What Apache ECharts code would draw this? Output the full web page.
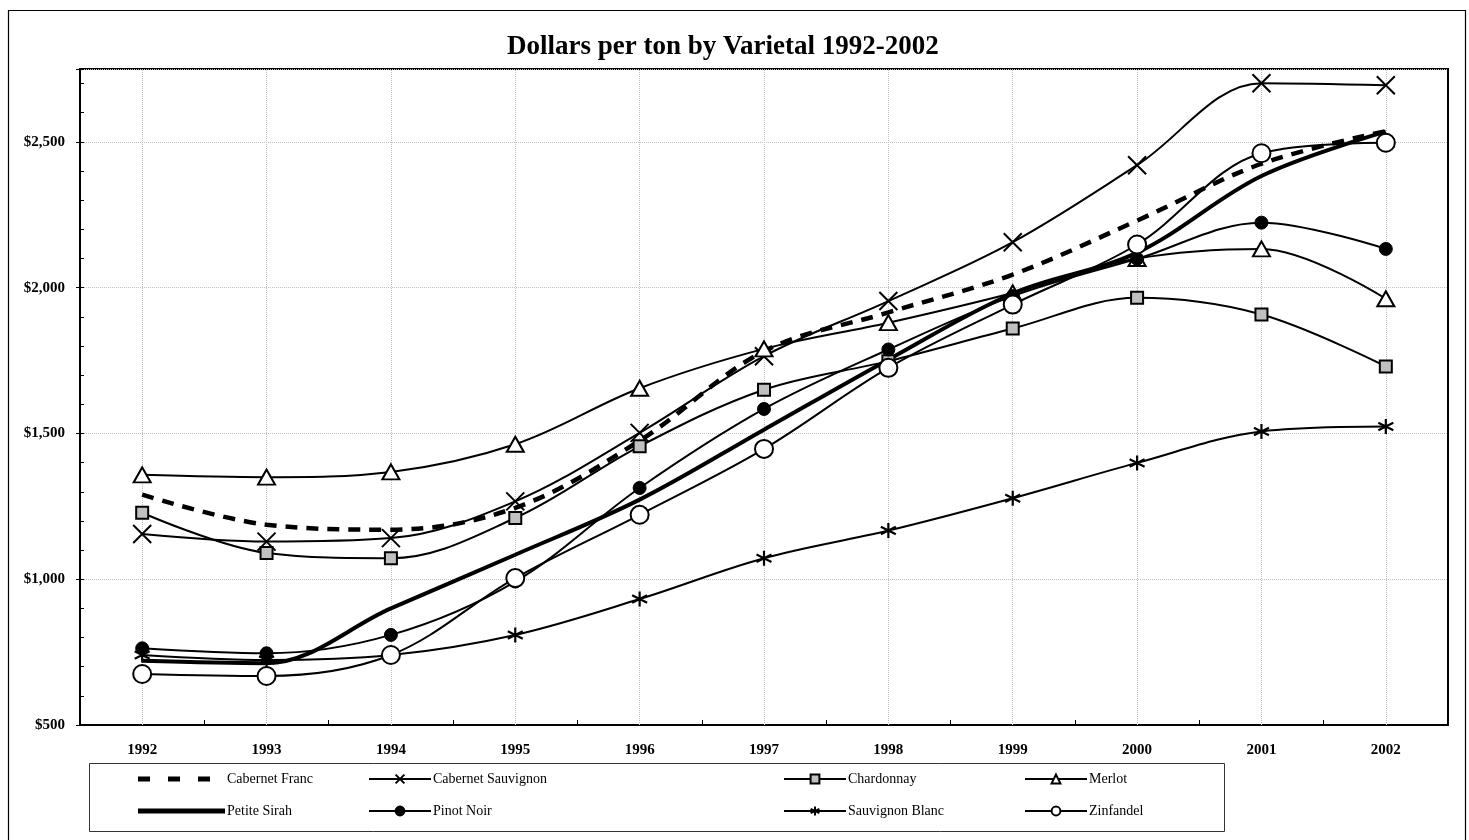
<!DOCTYPE html>
<html>
<head>
<meta charset="utf-8">
<script src="https://cdn.jsdelivr.net/npm/echarts@6/dist/echarts.min.js"></script>
<style>
html,body{margin:0;padding:0;background:#fff;}
#chart{width:1469px;height:840px;}
</style>
</head>
<body>
<div id="chart"></div>
<script>
var years = ['1992','1993','1994','1995','1996','1997','1998','1999','2000','2001','2002'];
var yTicks = [500, 1000, 1500, 2000, 2500];
var cabernetFranc      = [1290, 1187, 1170, 1245, 1475, 1782, 1915, 2045, 2230, 2425, 2537];
var cabernetSauvignon  = [1155, 1129, 1141, 1267, 1502, 1765, 1954, 2156, 2420, 2701, 2694];
var chardonnay         = [1228, 1090, 1072, 1210, 1456, 1650, 1748, 1860, 1965, 1908, 1730];
var merlot             = [1358, 1350, 1368, 1463, 1655, 1790, 1880, 1982, 2100, 2133, 1962];
var petiteSirah        = [720, 712, 900, 1084, 1273, 1513, 1753, 1980, 2120, 2383, 2535];
var pinotNoir          = [763, 746, 809, 992, 1313, 1584, 1788, 1971, 2099, 2223, 2133];
var sauvignonBlanc     = [740, 723, 740, 809, 932, 1072, 1167, 1278, 1399, 1507, 1524];
var zinfandel          = [675, 668, 740, 1004, 1221, 1447, 1725, 1942, 2148, 2461, 2497];

var FONT = 'Liberation Serif, Times New Roman, serif';
var SM = 0.35;
function lineSeries(name, data, opts) {
  return Object.assign({
    name: name, type: 'line', data: data, smooth: SM, showAllSymbol: true, z: 3,
    lineStyle: {color: '#000', width: 2},
    emphasis: {disabled: true},
    animation: false
  }, opts);
}
var crossPath = 'path://M0,0L10,10M10,0L0,10';
var starPath = 'path://M5,0L5,10M0.7,2.5L9.3,7.5M9.3,2.5L0.7,7.5';
var dashIcon = 'path://M0,0h12v5h-12zM30,0h12v5h-12zM60,0h12v5h-12zM86.9,2.4h0.1v0.1h-0.1z';
var thickIcon = 'path://M0,0h82v4.5h-82z';

var series = [
  {
    name: '_grid', type: 'line', data: [], z: 1, silent: true, animation: false,
    markLine: {
      silent: true, z: 1, symbol: ['none','none'], label: {show: false}, animation: false,
      emphasis: {disabled: true},
      lineStyle: {color: '#c0c0c0', type: 'dotted', width: 1},
      data: years.map(function (y) { return {xAxis: y}; })
    }
  },
  lineSeries('Cabernet Franc', cabernetFranc, {
    symbol: 'none', lineStyle: {color: '#000', width: 4.5, type: [12, 9]}, itemStyle: {color: '#000'}
  }),
  lineSeries('Cabernet Sauvignon', cabernetSauvignon, {
    symbol: crossPath, symbolSize: 18,
    itemStyle: {color: 'rgba(0,0,0,0)', borderColor: '#000', borderWidth: 2}
  }),
  lineSeries('Chardonnay', chardonnay, {
    symbol: 'rect', symbolSize: 12,
    itemStyle: {color: '#c0c0c0', borderColor: '#000', borderWidth: 2}
  }),
  lineSeries('Merlot', merlot, {
    symbol: 'triangle', symbolSize: [17, 15],
    itemStyle: {color: '#fff', borderColor: '#000', borderWidth: 2}
  }),
  lineSeries('Petite Sirah', petiteSirah, {
    symbol: 'none', lineStyle: {color: '#000', width: 4}, itemStyle: {color: '#000'}
  }),
  lineSeries('Pinot Noir', pinotNoir, {
    symbol: 'circle', symbolSize: 13,
    itemStyle: {color: '#000', borderColor: '#000', borderWidth: 1}
  }),
  lineSeries('Sauvignon Blanc', sauvignonBlanc, {
    symbol: starPath, symbolSize: 15,
    itemStyle: {color: 'rgba(0,0,0,0)', borderColor: '#000', borderWidth: 2.2}
  }),
  lineSeries('Zinfandel', zinfandel, {
    symbol: 'circle', symbolSize: 18,
    itemStyle: {color: '#fff', borderColor: '#000', borderWidth: 2}
  })
];

function legendCol(names, left, w) {
  return {
    data: names, orient: 'vertical', left: left, top: 767, itemWidth: w, itemHeight: 11,
    itemGap: 18, selectedMode: false,
    textStyle: {fontFamily: FONT, fontSize: 14, color: '#000', padding: [0,0,0,-3]}
  };
}

var chart = echarts.init(document.getElementById('chart'), null, {renderer: 'canvas'});
chart.setOption({
  backgroundColor: '#fff',
  animation: false,
  title: {
    text: 'Dollars per ton by Varietal 1992-2002', left: 502, top: 29,
    textStyle: {fontFamily: FONT, fontSize: 27, fontWeight: 'bold', color: '#000'}
  },
  graphic: [
    {type: 'rect', shape: {x: 8.5, y: 10.5, width: 1457, height: 850}, style: {fill: 'none', stroke: '#000', lineWidth: 1.2}, z: -10, silent: true},
    {type: 'rect', shape: {x: 89.5, y: 763.5, width: 1135, height: 68}, style: {fill: 'none', stroke: '#333', lineWidth: 1}, z: -10, silent: true}
  ],
  legend: [
    {
      data: [
        {name: 'Cabernet Franc', icon: dashIcon, itemStyle: {color: '#000', borderWidth: 0}},
        {name: 'Petite Sirah', icon: thickIcon, itemStyle: {color: '#000', borderWidth: 0}}
      ],
      orient: 'vertical', left: 133, top: 767, itemWidth: 87, itemHeight: 11,
      itemGap: 18, selectedMode: false,
      textStyle: {fontFamily: FONT, fontSize: 14, color: '#000', padding: [0,0,0,-3]}
    },
    legendCol(['Cabernet Sauvignon', 'Pinot Noir'], 363, 62),
    legendCol(['Chardonnay', 'Sauvignon Blanc'], 778, 62),
    legendCol(['Merlot', 'Zinfandel'], 1019, 62)
  ],
  grid: {left: 80, right: 21, top: 69, bottom: 115, show: true, borderColor: '#000', borderWidth: 2, backgroundColor: 'transparent'},
  xAxis: {
    type: 'category', data: years, boundaryGap: true,
    axisLine: {lineStyle: {color: '#000', width: 2}},
    axisTick: {show: true, inside: true, length: 5, lineStyle: {color: '#000', width: 1}},
    axisLabel: {fontFamily: FONT, fontSize: 15, fontWeight: 'bold', color: '#000', margin: 18},
    splitLine: {show: false}
  },
  yAxis: [{
    type: 'value', min: yTicks[0], max: 2750, interval: 500,
    axisLine: {show: true, lineStyle: {color: '#000', width: 2}},
    axisTick: {show: true, inside: true, length: 4, lineStyle: {color: '#000'}},
    minorTick: {show: true, splitNumber: 5, length: 4, lineStyle: {color: '#000'}},
    axisLabel: {
      fontFamily: FONT, fontSize: 15, fontWeight: 'bold', color: '#000', margin: 15,
      formatter: function (v) { return yTicks.indexOf(v) >= 0 ? '$' + v.toLocaleString('en-US') : ''; }
    },
    splitLine: {show: true, lineStyle: {color: '#c0c0c0', type: 'dotted', width: 1}}
  }, {
    type: 'value', min: yTicks[0], max: 2750, interval: 500, position: 'left',
    axisLine: {show: false},
    axisTick: {show: true, inside: false, length: 4, lineStyle: {color: '#000'}},
    axisLabel: {show: false}, splitLine: {show: false}
  }],
  series: series
});
</script>
</body>
</html>
